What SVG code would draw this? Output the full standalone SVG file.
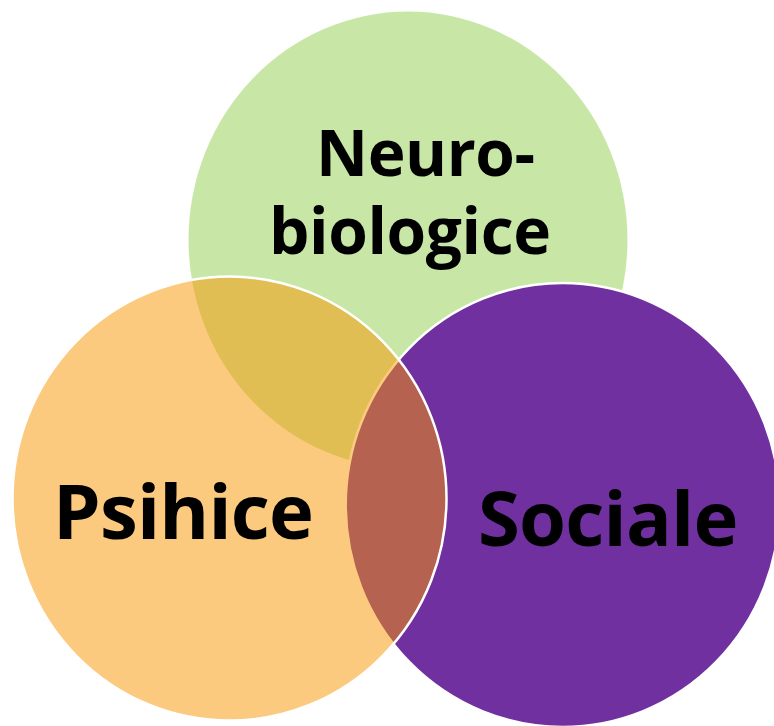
<svg xmlns="http://www.w3.org/2000/svg" width="774" height="726" viewBox="0 0 774 726">
  <style>
    .lbl { font-family: "Open Sans", "Noto Sans", "DejaVu Sans", sans-serif; font-weight: 700; fill: #000000; }
    .big { font-size: 76px; letter-spacing: -0.8px; }
    .top { font-size: 64px; letter-spacing: -0.4px; }
  </style>
  <rect x="0" y="0" width="774" height="726" fill="#ffffff"/>
  <g id="neurobiologice-shape">
    <ellipse cx="408" cy="240" rx="219.5" ry="228.5" fill="#92D050" fill-opacity="0.5"/>
  </g>
  <g id="sociale-shape">
    <ellipse cx="562.7" cy="505" rx="217" ry="222" fill="#7030A0" stroke="#ffffff" stroke-width="2.5"/>
  </g>
  <g id="psihice-shape">
    <ellipse cx="229.5" cy="498.6" rx="217" ry="222" fill="#FA9500" fill-opacity="0.5" stroke="#ffffff" stroke-width="2.5"/>
  </g>
  <g id="neurobiologice">
    <text class="lbl top" x="316" y="176">Neuro-</text>
    <text class="lbl top" x="269" y="254">biologice</text>
  </g>
  <g id="psihice">
    <text class="lbl big" x="53" y="539">Psihice</text>
  </g>
  <g id="sociale">
    <text class="lbl big" x="478" y="546">Sociale</text>
  </g>
</svg>
